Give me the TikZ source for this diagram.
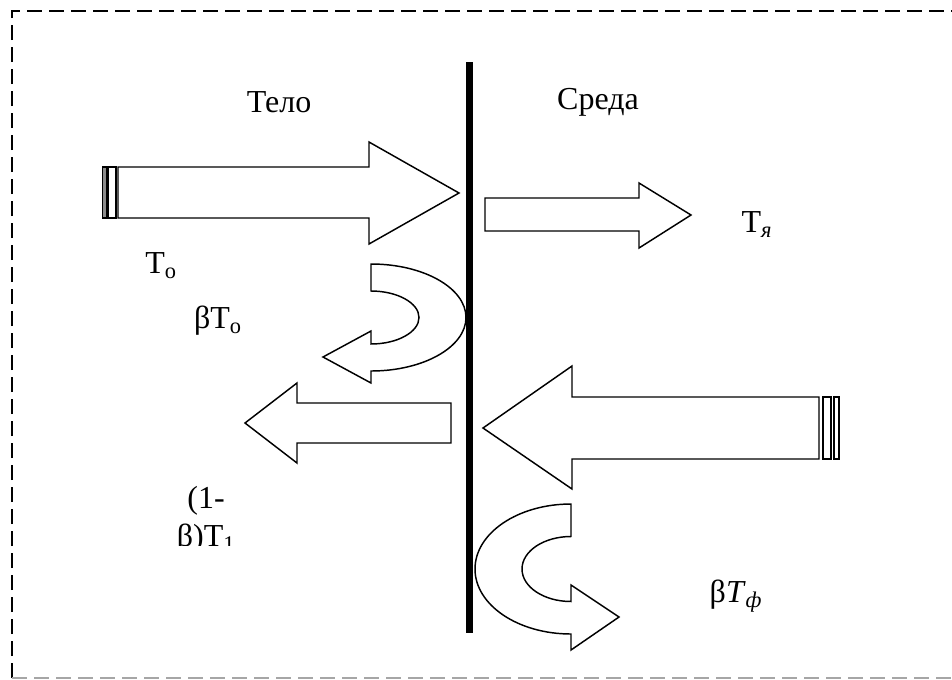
\documentclass[tikz,border=0pt]{standalone}
\usepackage{fontspec}
\setmainfont{Liberation Serif}
\usetikzlibrary{positioning}

\begin{document}
\begin{tikzpicture}[
  x=0.75pt, y=-0.75pt,
  lbl/.style  ={font=\fontsize{24}{28.5}\selectfont, inner sep=0pt},
  blk/.style  ={draw=black, line width=1.1pt, fill=white, line join=miter},
  stripe/.style={draw=black, line width=1.1pt},
  frame/.style={line width=1.5pt, dash pattern=on 11.25pt off 5.25pt},
  wall/.style ={line width=5.25pt}
]
\useasboundingbox (0,0) rectangle (952,679);
% ---------- frame and wall ----------
\draw[frame] (12,678) -- (12,11) -- (960,11);
\draw[frame, black!35] (12,678) -- (960,678);
\draw[wall] (469.5,62) -- (469.5,633);

% ---------- body side ----------
\node[lbl] (telo) at (279,102) {Тело};
\draw[stripe, fill=black!45] (102.7,167) rectangle (106.7,218);
\draw[stripe, fill=white] (108,167) rectangle (116,218);
\draw[blk] (118,167) -- (369,167) -- (369,142) -- (459,193) -- (369,244)
  -- (369,218) -- (118,218) -- cycle;
\node[lbl] (to) at (161,266) {T\textsubscript{о}};

\draw[blk] (371,264) .. controls (423.5,264) and (466,288) .. (466,317.5)
  .. controls (466,347) and (423.5,371) .. (371,371)
  -- (371,383) -- (323,357) -- (371,331) -- (371,344)
  .. controls (397.5,344) and (419,332) .. (419,317.5)
  .. controls (419,303) and (397.5,291) .. (371,291) -- cycle;
\node[lbl] (bto) at (218,321) {βT\textsubscript{о}};

\draw[blk] (451,403) -- (297,403) -- (297,383) -- (245,423) -- (297,463)
  -- (297,443) -- (451,443) -- cycle;
\begin{scope}
  \clip (140,470) rectangle (300,545);
  \node[lbl, align=center, anchor=north] (odb) at (206,486) {(1-\\β)T\textsubscript{1}};
\end{scope}

% ---------- medium side ----------
\node[lbl] (sreda) at (598,102) {Среда};
\draw[blk] (485,198) -- (639,198) -- (639,183) -- (691,215) -- (639,248)
  -- (639,231) -- (485,231) -- cycle;
\node[lbl] (tya) at (757,225) {T\textsubscript{\textit{я}}};

\draw[blk] (819,397) -- (572,397) -- (572,366) -- (483,428) -- (572,489)
  -- (572,459) -- (819,459) -- cycle;
\draw[stripe, fill=white] (823,397) rectangle (831,459);
\draw[stripe, fill=white] (834,397) rectangle (839,459);

\draw[blk] (571,504) .. controls (518,504) and (475,533) .. (475,569)
  .. controls (475,605) and (518,634) .. (571,634)
  -- (571,650) -- (619,617) -- (571,585) -- (571,601.5)
  .. controls (544,601.5) and (522,587) .. (522,569)
  .. controls (522,551) and (544,536.5) .. (571,536.5) -- cycle;
\node[lbl] (btf) at (736,596) {β\textit{T}\textsubscript{\textit{ф}}};
\end{tikzpicture}
\end{document}
